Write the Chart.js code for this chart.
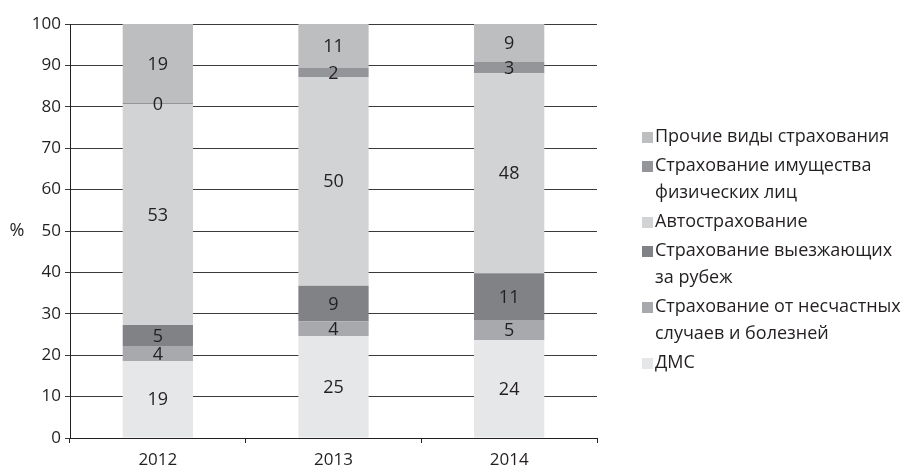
<!DOCTYPE html>
<html>
<head>
<meta charset="utf-8">
<script src="https://cdn.jsdelivr.net/npm/chart.js@4"></script>
<style>
  html, body { margin: 0; padding: 0; background: #fff; }
  canvas { display: block; }
</style>
</head>
<body>
<canvas id="chart" width="912" height="466"></canvas>
<script>
const years = ['2012', '2013', '2014']

// shares, %
const dms = [18.6, 24.6, 23.6]
const accident = [3.6, 3.6, 4.9]
const travel = [5.1, 8.6, 11.3]
const auto = [53.4, 50.4, 48.3]
const property = [0.2, 2.2, 2.7]
const other = [19.1, 10.6, 9.2]

const yTicks = [0, 10, 20, 30, 40, 50, 60, 70, 80, 90, 100]

const seriesNames = [
    ['ДМС'],
    ['Страхование от несчастных', 'случаев и болезней'],
    ['Страхование выезжающих', 'за рубеж'],
    ['Автострахование'],
    ['Страхование имущества', 'физических лиц'],
    ['Прочие виды страхования']
]
const seriesData = [dms, accident, travel, auto, property, other]
const seriesColors = ['#e6e7e8', '#a7a9ac', '#808285', '#d1d3d4', '#939598', '#bcbec0']

const FONT = '"Open Sans", sans-serif'
const INK = '#231f20'

let datasets = seriesData.map((values, i) => {
    return {
        label: seriesNames[i].join(' '),
        data: values,
        backgroundColor: seriesColors[i],
        borderWidth: 0,
        barPercentage: 0.4,
        categoryPercentage: 1
    }
})

// numbers in the middle of every segment
const segmentLabels = {
    id: 'segmentLabels',
    afterDatasetsDraw(chart) {
        const ctx = chart.ctx
        ctx.save()
        ctx.font = '18px ' + FONT
        ctx.fillStyle = INK
        ctx.textAlign = 'center'
        ctx.textBaseline = 'middle'
        chart.data.datasets.forEach((ds, i) => {
            chart.getDatasetMeta(i).data.forEach((bar, j) => {
                ctx.fillText(String(Math.round(ds.data[j])), bar.x, (bar.y + bar.base) / 2 + 1)
            })
        })
        ctx.restore()
    }
}

// legend on the right, top item = last series; plus the "%" axis title
const sideLegend = {
    id: 'sideLegend',
    afterDraw(chart) {
        const ctx = chart.ctx
        ctx.save()
        ctx.font = '18px ' + FONT
        ctx.textBaseline = 'middle'
        ctx.textAlign = 'left'
        let y = 137
        for (let i = seriesNames.length - 1; i >= 0; i--) {
            ctx.fillStyle = seriesColors[i]
            ctx.fillRect(642, y - 5, 11, 11)
            ctx.fillStyle = INK
            seriesNames[i].forEach((line, k) => {
                ctx.fillText(line, 655, y + k * 27)
            })
            y += (seriesNames[i].length - 1) * 27 + 29
        }
        const ys = chart.scales.y
        ctx.textAlign = 'center'
        ctx.fillText('%', 17, ys.getPixelForValue(50))
        ctx.restore()
    }
}

const config = {
    type: 'bar',
    data: {
        labels: years,
        datasets: datasets
    },
    plugins: [segmentLabels, sideLegend],
    options: {
        responsive: false,
        animation: false,
        layout: {
            padding: { top: 24, right: 315, left: 0, bottom: 0 }
        },
        plugins: {
            legend: { display: false },
            tooltip: { enabled: false }
        },
        scales: {
            x: {
                stacked: true,
                afterFit: s => { s.height = 28 },
                grid: {
                    drawOnChartArea: false,
                    drawTicks: true,
                    tickLength: 5,
                    color: INK
                },
                border: { color: INK, width: 1 },
                ticks: {
                    color: INK,
                    font: { family: FONT, size: 17 },
                    padding: 7
                }
            },
            y: {
                stacked: true,
                min: 0,
                max: 100,
                afterFit: s => { s.width = 70 },
                afterBuildTicks: s => { s.ticks = yTicks.map(v => ({ value: v })) },
                grid: {
                    color: '#3a3a3a',
                    lineWidth: 1,
                    tickLength: 5
                },
                border: { color: INK, width: 1 },
                ticks: {
                    color: INK,
                    font: { family: FONT, size: 17 },
                    padding: 4
                }
            }
        }
    }
}

const myChart = new Chart(document.getElementById('chart'), config)
</script>
</body>
</html>
